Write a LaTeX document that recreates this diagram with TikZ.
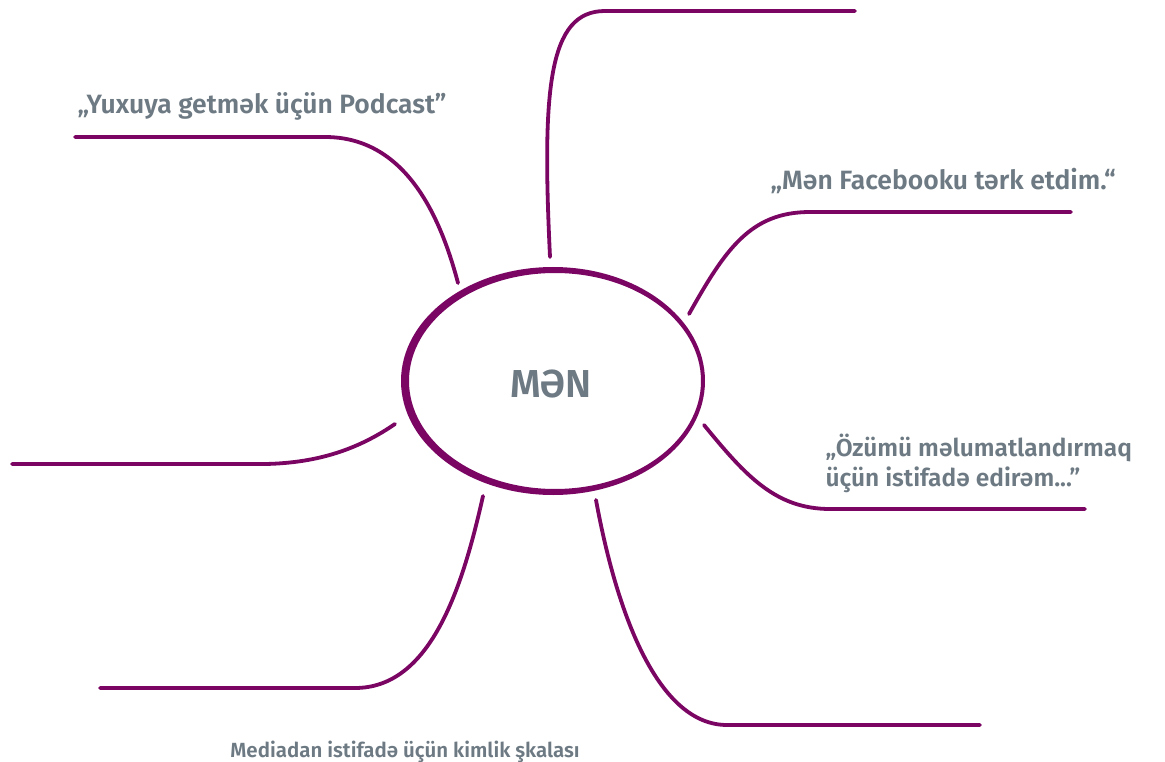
\documentclass[tikz,border=0pt]{standalone}
\usepackage{fontspec}
\setmainfont{Fira Sans}[BoldFont={Fira Sans SemiBold}]
\usetikzlibrary{shapes.geometric}

\definecolor{plum}{HTML}{7A0562}
\definecolor{slate}{HTML}{6D7A83}

\begin{document}
\begin{tikzpicture}[
        x=1pt, y=-1pt,
        every node/.style={text=slate, font=\bfseries},
        quote/.style={anchor=base west, font=\bfseries\fontsize{26.5}{31}\selectfont, align=left},
        branch/.style={draw=plum, line width=3.8pt, line cap=round}
      ]
        \useasboundingbox (0,0) rectangle (1165,762);

        % centre
        \node[ellipse, minimum width=300pt, minimum height=222pt,
              font=\bfseries\fontsize{39}{44}\selectfont] (me) at (551,384) {MƏN};
        \fill[plum, even odd rule] (553,381) ellipse [x radius=152, y radius=114]
                                   (555,381) ellipse [x radius=146, y radius=108];

        % branch ends
        \coordinate (top0) at (550,257);   \coordinate (top1) at (855,11);
        \coordinate (ul0) at (458,283);    \coordinate (ul1) at (75,137);
        \coordinate (ur0) at (689,314);    \coordinate (ur1) at (1071,212);
        \coordinate (rr0) at (704,425);    \coordinate (rr1) at (1085,509);
        \coordinate (ll0) at (395,424);    \coordinate (ll1) at (12,464);
        \coordinate (bl0) at (483,496);    \coordinate (bl1) at (100,688);
        \coordinate (br0) at (596,500);    \coordinate (br1) at (980,725);

        \draw[branch] (top0) .. controls (542,90) and (548,11) .. (605,11) -- (top1);
        \draw[branch] (ul0) .. controls (440,215) and (405,137) .. (325,137) -- (ul1);
        \draw[branch] (ur0) .. controls (725,250) and (750,212) .. (810,212) -- (ur1);
        \draw[branch] (rr0) .. controls (745,475) and (775,509) .. (830,509) -- (rr1);
        \draw[branch] (ll0) .. controls (360,448) and (320,463) .. (265,464) -- (ll1);
        \draw[branch] (bl0) .. controls (462,590) and (430,688) .. (355,688) -- (bl1);
        \draw[branch] (br0) .. controls (618,620) and (660,725) .. (727,725) -- (br1);

        % labels
        \node[quote] (podcast) at (74,114) {„Yuxuya getmək üçün Podcast”};
        \node[quote] (facebook) at (767,190) {„Mən Facebooku tərk etdim.“};
        \node[quote, anchor=north west, font=\bfseries\fontsize{24.5}{30}\selectfont] (info) at (822,430)
          {„Özümü məlumatlandırmaq\\üçün istifadə edirəm...”};
        \node[anchor=base, font=\bfseries\fontsize{20.5}{24}\selectfont] (caption) at (405,757)
          {Mediadan istifadə üçün kimlik şkalası};
      \end{tikzpicture}
\end{document}
